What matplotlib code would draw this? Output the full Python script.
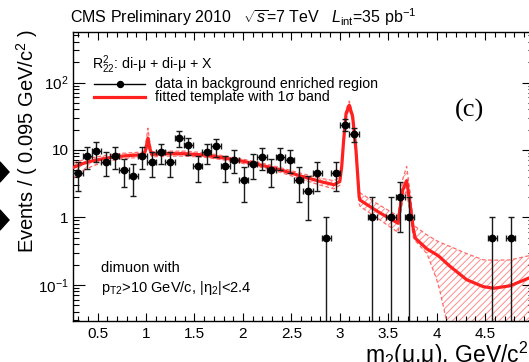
import numpy as np
import matplotlib
matplotlib.use("Agg")
import matplotlib.pyplot as plt
from matplotlib.lines import Line2D
from matplotlib.patches import Polygon
from matplotlib.ticker import MultipleLocator, LogLocator, NullFormatter, FuncFormatter

# data points (bin centres, bin width 0.095)
bin_x = [0.2975, 0.3925, 0.4875, 0.5825, 0.6775, 0.7725, 0.8675, 0.9625, 1.0575, 1.1525,
         1.2475, 1.3425, 1.4375, 1.5325, 1.6275, 1.7225, 1.8175, 1.9125, 2.0075, 2.1025,
         2.1975, 2.2925, 2.3875, 2.4825, 2.5775, 2.6725, 2.7675, 2.8625, 2.9575, 3.0525,
         3.1475, 3.3375, 3.5275, 3.6225, 3.7175, 4.5725, 4.7625]
events = [4.6, 8.2, 9.8, 6.7, 8.2, 5.1, 4.1, 8.2, 6.6, 9.2,
          6.6, 15.0, 11.7, 5.7, 9.2, 11.3, 5.7, 7.2, 3.6, 6.2,
          7.8, 5.1, 7.8, 7.2, 3.6, 2.5, 4.6, 0.5, 4.6, 23.7,
          17.1, 1.0, 1.0, 2.0, 1.0, 0.5, 0.5]
events_err = [2.1, 2.9, 3.1, 2.6, 2.9, 2.3, 2.0, 2.9, 2.6, 3.0,
              2.6, 3.9, 3.4, 2.4, 3.0, 3.4, 2.4, 2.7, 1.9, 2.5,
              2.8, 2.3, 2.8, 2.7, 1.9, 1.6, 2.1, 0.5, 2.1, 4.9,
              4.1, 1.0, 1.0, 1.4, 1.0, 0.5, 0.5]
half_bin = 0.0475

# fitted template and its 1 sigma band
fit_x = [0.25, 0.35, 0.45, 0.60, 0.75, 0.90, 0.98, 1.00, 1.02, 1.04,
         1.06, 1.20, 1.40, 1.60, 1.80, 2.00, 2.20, 2.40, 2.60, 2.80,
         2.94, 3.00, 3.02, 3.04, 3.065, 3.098, 3.133, 3.167, 3.20, 3.21,
         3.40, 3.60, 3.65, 3.69, 3.725, 3.76, 3.78, 3.90, 4.00, 4.03,
         4.10, 4.14, 4.31, 4.48, 4.59, 4.76, 4.95, 5.00]
fit_y = [5.5, 6.3, 6.9, 7.6, 8.1, 8.4, 8.5, 10.5, 15.0, 10.5,
         8.6, 8.8, 8.8, 8.4, 7.6, 6.8, 5.9, 5.0, 4.1, 3.4,
         3.05, 3.4, 5.7, 14.0, 35.0, 46.0, 31.0, 10.0, 2.0, 1.8,
         1.2, 0.82, 2.55, 3.5, 1.6, 0.65, 0.49, 0.34, 0.28, 0.26,
         0.21, 0.187, 0.119, 0.094, 0.089, 0.097, 0.126, 0.135]
fit_lo = [3.8, 4.9, 5.8, 6.8, 7.4, 7.7, 7.8, 9.3, 12.5, 9.3,
          7.9, 8.1, 8.1, 7.8, 7.1, 6.3, 5.5, 4.6, 3.7, 3.0,
          2.65, 3.0, 5.0, 12.5, 31.0, 40.0, 27.0, 8.5, 1.6, 1.45,
          0.95, 0.6, 1.9, 2.5, 1.1, 0.5, 0.45, 0.29, 0.12, 0.085,
          0.03, 0.015, 0.01, 0.01, 0.01, 0.01, 0.01, 0.01]
fit_hi = [6.4, 7.1, 7.7, 8.4, 8.9, 9.2, 9.3, 13.0, 21.0, 13.0,
          9.4, 9.6, 9.6, 9.1, 8.2, 7.3, 6.4, 5.4, 4.5, 3.8,
          3.5, 3.9, 6.5, 16.0, 40.0, 53.0, 35.0, 11.5, 2.5, 2.3,
          1.55, 1.05, 3.7, 5.7, 2.4, 0.8, 0.73, 0.55, 0.45, 0.43,
          0.39, 0.37, 0.29, 0.235, 0.232, 0.234, 0.27, 0.28]

W, H = 529, 362


def fx(x):
    return x / W


def fy(y):
    return 1 - y / H


def xtick_label(v, p):
    # the 5 sits at the cut right edge of the figure, leave it out
    if v > 4.9:
        return ""
    return "%g" % v


plt.rcParams["font.family"] = ["Liberation Sans", "DejaVu Sans"]
plt.rcParams["mathtext.fontset"] = "custom"
plt.rcParams["mathtext.rm"] = "Liberation Sans"
plt.rcParams["mathtext.it"] = "Liberation Sans:italic"
plt.rcParams["mathtext.bf"] = "Liberation Sans:bold"
plt.rcParams["hatch.linewidth"] = 0.7

fig = plt.figure(figsize=(W / 100, H / 100), dpi=100)
ax = fig.add_axes([fx(73.3), fy(320.5), (533.6 - 73.3) / W, (320.5 - 32.3) / H])

# band
ax.fill_between(fit_x, fit_lo, fit_hi, facecolor="none", edgecolor="#ff8c8c",
                hatch="/////", linewidth=0, zorder=1)
ax.plot(fit_x, fit_lo, color="#ff6a6a", lw=0.9, ls=(0, (3, 2)), zorder=2)
ax.plot(fit_x, fit_hi, color="#ff6a6a", lw=0.9, ls=(0, (3, 2)), zorder=2)
ax.plot(fit_x, fit_y, color="#ff2020", lw=2.3, zorder=3)

# data
ev = np.array(events)
err = np.array(events_err)
err_lo = np.minimum(err, ev - 1e-3)
ax.errorbar(bin_x, events, yerr=[err_lo, err], xerr=half_bin, fmt="o", color="black",
            ecolor="#1a1a1a", ms=4.6, lw=1, capsize=2, capthick=1, zorder=4)

ax.set_yscale("log")
ax.set_xlim(0.25, 5.0)
ax.set_ylim(0.0296, 555)

ax.set_yticks([0.1, 1, 10, 100])
ax.set_yticklabels([r"10$^{-1}$", "1", "10", r"10$^{2}$"])
ax.yaxis.set_minor_locator(LogLocator(base=10, subs=np.arange(2, 10)))
ax.yaxis.set_minor_formatter(NullFormatter())
ax.xaxis.set_major_locator(MultipleLocator(0.5))
ax.xaxis.set_minor_locator(MultipleLocator(0.1))
ax.xaxis.set_major_formatter(FuncFormatter(xtick_label))

ax.tick_params(which="both", direction="in", top=True, right=True, labelsize=11, width=0.8)
ax.tick_params(axis="x", which="major", length=6, pad=5)
ax.tick_params(axis="x", which="minor", length=3.5)
ax.tick_params(axis="y", which="major", length=8.5, pad=3.5)
ax.tick_params(axis="y", which="minor", length=4.5)
for s in ax.spines.values():
    s.set_linewidth(1)

# title and axis labels
fig.text(fx(70), fy(17), r"CMS Preliminary 2010   $\sqrt{s}$=7 TeV   $L_{\mathrm{int}}$=35 pb$^{-1}$",
         fontsize=11.5, ha="left", va="center")
fig.text(fx(27), fy(141), r"Events / ( 0.095 GeV/c$^2$ )", rotation=90,
         fontsize=14.5, ha="center", va="center")
fig.text(fx(365), fy(363), r"m$_2$(μ,μ), GeV/c$^2$", fontsize=16.5, ha="left", va="baseline")

# legend
fig.text(fx(91.7), fy(65), r"R$^2_{22}$: di-μ + di-μ + X", fontsize=10.2, ha="left", va="center")
fig.add_artist(Line2D([fx(94), fx(145)], [fy(84), fy(84)], color="black", lw=1))
fig.add_artist(Line2D([fx(119.5)], [fy(84)], color="black", marker="o", ms=4.3))
fig.text(fx(155), fy(84), "data in background enriched region", fontsize=10.2, ha="left", va="center")
fig.add_artist(Line2D([fx(94), fx(145)], [fy(96.7), fy(96.7)], color="#ff2020", lw=2.3))
fig.text(fx(155), fy(96.7), "fitted template with 1σ band", fontsize=10.2, ha="left", va="center")

fig.text(fx(469), fy(110), "(c)", fontsize=19, family="Liberation Serif", ha="center", va="center")

fig.text(fx(101), fy(268), "dimuon with", fontsize=10.5, ha="left", va="center")
fig.text(fx(101), fy(288), r"p$_{\mathrm{T2}}$>10 GeV/c, |η$_2$|<2.4", fontsize=10.5, ha="left", va="center")

# page markers cut at the left edge
for yc in [172, 220]:
    fig.add_artist(Polygon([[fx(-9), fy(yc)], [fx(0), fy(yc - 10)], [fx(9), fy(yc)], [fx(0), fy(yc + 10)]],
                           closed=True, color="black", transform=fig.transFigure))

fig.savefig("out.png", dpi=100)
